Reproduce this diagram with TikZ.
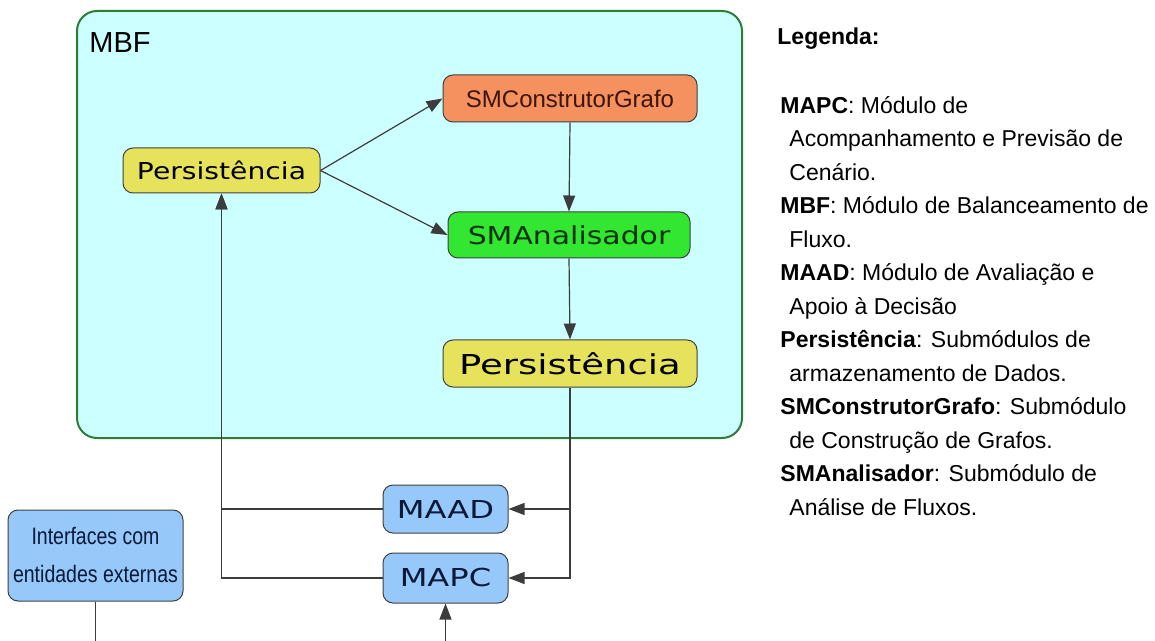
\documentclass[tikz,border=0pt]{standalone}
\usepackage{fontspec}
\setmainfont{Liberation Sans}
\newfontfamily\persfontA[FakeStretch=1.21]{DejaVu Sans}
\newfontfamily\persfontB[FakeStretch=1.35]{DejaVu Sans}
\newfontfamily\modfont[FakeStretch=1.3]{DejaVu Sans}
\newfontfamily\condfont[FakeStretch=0.82]{Liberation Sans}
\usetikzlibrary{arrows.meta}

\definecolor{mbfcyan}{RGB}{204,255,255}
\definecolor{mbfgreen}{RGB}{45,125,55}
\definecolor{persyellow}{RGB}{230,226,92}
\definecolor{builderorange}{RGB}{245,145,95}
\definecolor{analysergreen}{RGB}{50,230,50}
\definecolor{modblue}{RGB}{150,200,250}
\definecolor{edgegray}{RGB}{60,60,60}

\tikzstyle{mbf_box}=[rectangle,draw=mbfgreen,fill=mbfcyan,line width=1pt,rounded corners=10pt,inner sep=0pt]
\tikzstyle{sub_box}=[rectangle,draw=black!75,line width=0.5pt,rounded corners=5pt,inner sep=0pt]
\tikzstyle{persist}=[sub_box,fill=persyellow,minimum width=127pt,minimum height=23.5pt]
\tikzstyle{module}=[sub_box,fill=modblue,text={rgb,255:red,10;green,25;blue,55},minimum width=62.5pt,minimum height=24pt,font=\modfont\fontsize{12.35}{14}\selectfont]
\tikzstyle{flow}=[draw=edgegray,line width=0.6pt,-{Triangle[length=8pt,width=6pt]}]
\tikzstyle{line}=[draw=edgegray,line width=0.6pt]

\begin{document}
\begin{tikzpicture}[x=0.5pt,y=-0.5pt]
\useasboundingbox (0,0) rectangle (1155,641);

\node [mbf_box,minimum width=332.5pt,minimum height=213.5pt] (mbf) at (409.5,224.5) {};
\node [anchor=base west,inner sep=0pt,font=\fontsize{14.5}{16}\selectfont] (mbflabel) at (89,53) {MBF};

\node [persist,minimum width=98.5pt,minimum height=22.5pt,font=\persfontA\fontsize{11.65}{14}\selectfont] (persist01) at (221.5,170.5) {Persistência};
\node [sub_box,fill=builderorange,minimum width=127pt,minimum height=23.5pt,text={rgb,255:red,60;green,20;blue,10},font=\fontsize{12}{14}\selectfont] (builder) at (570,98.5) {SMConstrutorGrafo};
\node [sub_box,fill=analysergreen,minimum width=121pt,minimum height=23pt,text={rgb,255:red,10;green,50;blue,10},font=\persfontA\fontsize{12.35}{14}\selectfont] (analyser) at (569,235) {SMAnalisador};
\node [persist,font=\persfontB\fontsize{13.7}{16}\selectfont] (persist02) at (570,363.5) {Persistência};

\node [module] (maad) at (445.5,509) {MAAD};
\node [module,minimum height=25pt] (mapc) at (445.5,578) {MAPC};
\node [sub_box,fill=modblue,minimum width=87.5pt,minimum height=45.5pt,align=center,text={rgb,255:red,10;green,25;blue,55},font=\condfont\fontsize{11.9}{19}\selectfont] (iface) at (95.5,555.5) {Interfaces com\\entidades externas};

\coordinate (ifout) at (95.5,641);
\coordinate (mapcin) at (445.5,641);

% arrows inside MBF
\draw[flow] (persist01.east) -- (builder.west);
\draw[flow] (persist01.east) -- (analyser.west);
\draw[flow] (builder.south) -- (analyser.north);
\draw[flow] (analyser.south) -- (persist02.north);

% arrows to and from the modules
\draw[flow] (persist02.south) |- (maad.east);
\draw[flow] (persist02.south) |- (mapc.east);
\draw[flow] (maad.west) -| (persist01.south);
\draw[flow] (mapc.west) -| (persist01.south);
\draw[line] (iface.south) -- (ifout);
\draw[flow] (mapcin) -- (mapc.south);

% legend
\node [anchor=base west,inner sep=0pt,font=\bfseries\fontsize{11.5}{14}\selectfont] (legtitle) at (777,45) {Legenda:};
\node [anchor=base west,align=left,inner sep=0pt,font=\fontsize{11.5}{16.75}\selectfont] (legend) at (780,515) {\textbf{MAPC}: Módulo de\\
\hspace*{4.5pt}Acompanhamento e Previsão de\\
\hspace*{4.5pt}Cenário.\\
\textbf{MBF}: Módulo de Balanceamento de\\
\hspace*{4.5pt}Fluxo.\\
\textbf{MAAD}: Módulo de Avaliação e\\
\hspace*{4.5pt}Apoio à Decisão\\
\textbf{Persistência}: Submódulos de\\
\hspace*{4.5pt}armazenamento de Dados.\\
\textbf{SMConstrutorGrafo}: Submódulo\\
\hspace*{4.5pt}de Construção de Grafos.\\
\textbf{SMAnalisador}: Submódulo de\\
\hspace*{4.5pt}Análise de Fluxos.};

\end{tikzpicture}
\end{document}
